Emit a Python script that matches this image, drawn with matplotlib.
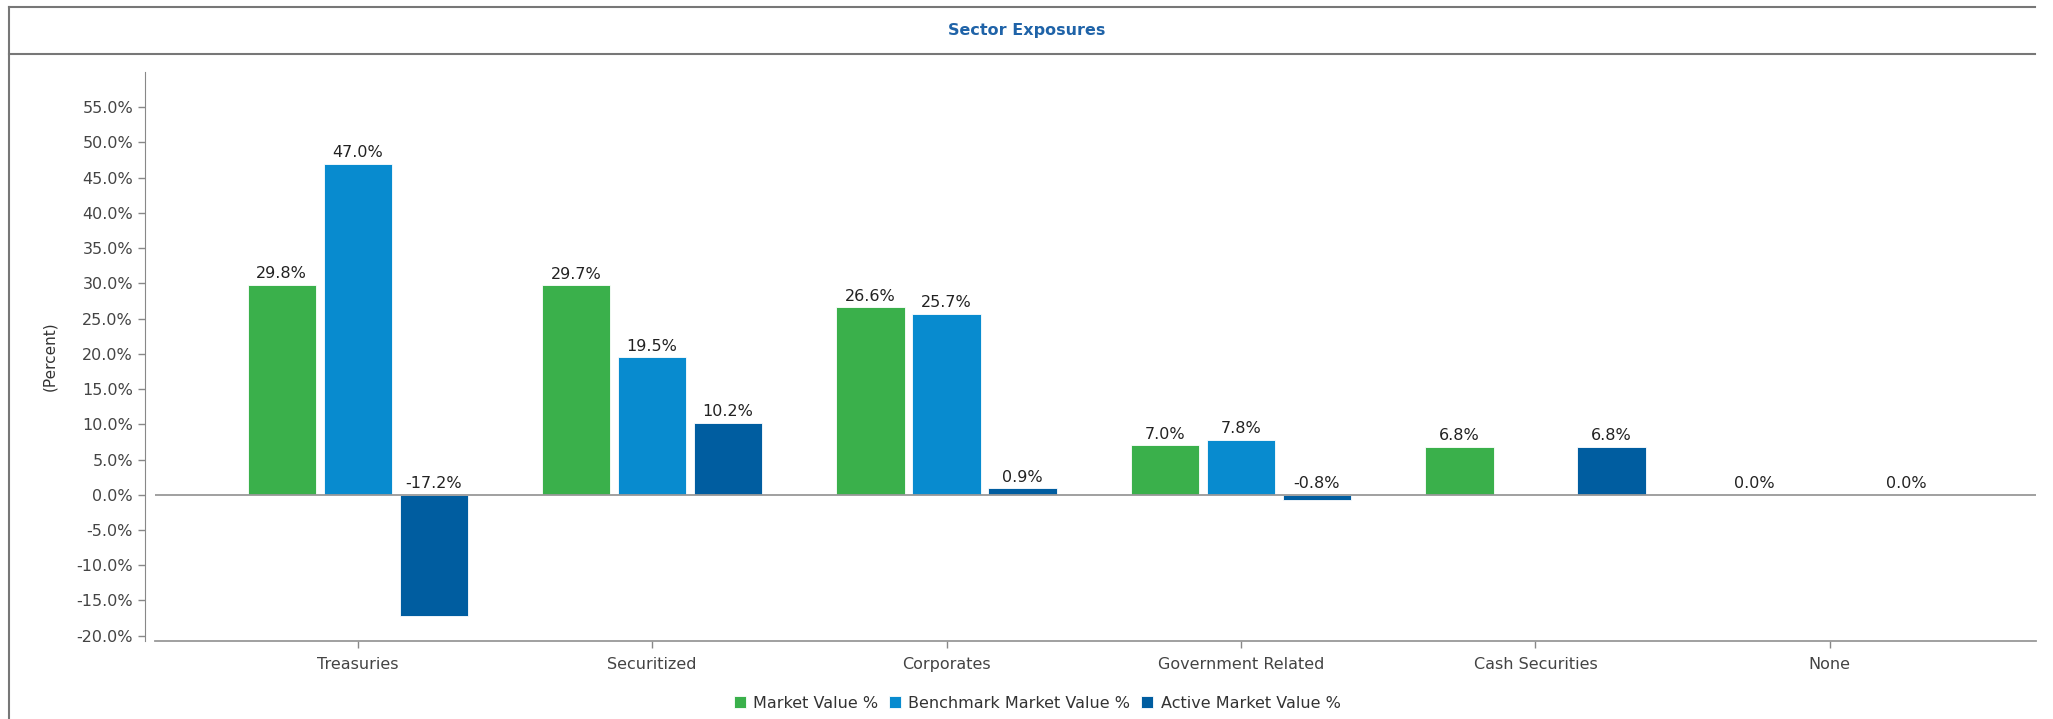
import numpy as np
import matplotlib.pyplot as plt
from matplotlib.lines import Line2D
from matplotlib.ticker import FuncFormatter

# data
categories = ['Treasuries', 'Securitized', 'Corporates', 'Government Related',
              'Cash Securities', 'None']
market_value = [29.8, 29.7, 26.6, 7.0, 6.8, 0.0]
benchmark_value = [47.0, 19.5, 25.7, 7.8, np.nan, np.nan]
active_value = [-17.2, 10.2, 0.9, -0.8, 6.8, 0.0]

series_names = ['Market Value %', 'Benchmark Market Value %', 'Active Market Value %']
series = [market_value, benchmark_value, active_value]
colors = ['#3AB04B', '#088BCF', '#005DA0']

plt.rcParams['font.family'] = ['DejaVu Sans']
FS = 11.5

fig = plt.figure(figsize=(20.53, 7.19), dpi=100)
ax = fig.add_axes([0.0753, 0.108, 0.9164, 0.792])

x = np.arange(len(categories))
w = 0.232
step = 0.258
for i, (vals, col, name) in enumerate(zip(series, colors, series_names)):
    pos = x + (i - 1) * step
    vals = np.array(vals, dtype=float)
    ax.bar(pos, np.nan_to_num(vals), width=w, color=col, label=name,
           edgecolor='white', linewidth=0.6, zorder=2)
    for p, v in zip(pos, vals):
        if np.isnan(v):
            continue
        ax.text(p, max(v, 0) + 0.5, f'{v:.1f}%', ha='center', va='bottom',
                fontsize=FS, color='#222222')

ax.axhline(0, color='#999999', linewidth=1.3, zorder=3)

ax.set_xlim(-0.69, 5.70)
ax.set_ylim(-20.8, 60)
ax.set_yticks(np.arange(-20, 56, 5))
ax.yaxis.set_major_formatter(FuncFormatter(lambda v, p: f'{v:.1f}%'))
ax.set_xticks(x)
ax.set_xticklabels(categories)
ax.tick_params(axis='y', labelsize=FS, labelcolor='#444444', color='#888888',
               length=5, width=1)
ax.tick_params(axis='x', labelsize=FS, labelcolor='#444444', color='#888888',
               length=5, width=1, pad=6)

for s in ['top', 'right']:
    ax.spines[s].set_visible(False)
ax.spines['left'].set_position(('outward', 7))
ax.spines['left'].set_color('#888888')
ax.spines['bottom'].set_color('#999999')
ax.spines['bottom'].set_linewidth(1.3)

ax.set_ylabel('(Percent)', fontsize=FS - 0.5, color='#333333', labelpad=14)

ax.legend(loc='upper center', bbox_to_anchor=(0.469, -0.07), ncol=3, frameon=False,
          fontsize=FS, handlelength=0.75, handleheight=0.75, handletextpad=0.45,
          columnspacing=0.7, labelcolor='#333333')

# outer frame and header
W, H = 2053, 719
frame_kw = dict(color='#777777', linewidth=1.5, transform=fig.transFigure)
fig.add_artist(Line2D([9 / W, 2035 / W], [1 - 7 / H, 1 - 7 / H], **frame_kw))
fig.add_artist(Line2D([9 / W, 2035 / W], [1 - 54 / H, 1 - 54 / H], **frame_kw))
fig.add_artist(Line2D([9 / W, 9 / W], [0, 1 - 7 / H], **frame_kw))
fig.text(0.5, 1 - 31 / H, 'Sector Exposures', ha='center', va='center',
         fontsize=11.5, fontweight='bold', color='#1F63A8')

fig.savefig('out.png', dpi=100)
